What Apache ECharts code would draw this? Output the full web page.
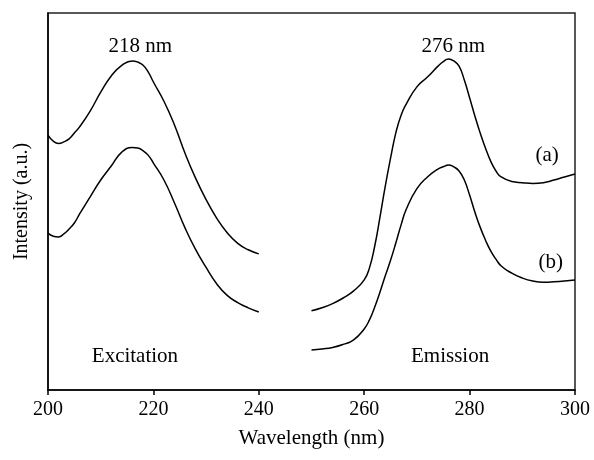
<!DOCTYPE html>
<html>
<head>
<meta charset="utf-8">
<script src="https://cdn.jsdelivr.net/npm/echarts@6/dist/echarts.min.js"></script>
<style>
  html, body { margin: 0; padding: 0; background: #fff; }
  #chart { width: 594px; height: 460px; }
</style>
</head>
<body>
<div id="chart"></div>
<script>
// wavelength (nm) and intensity values
var excWave = [200, 201, 202, 203, 204, 205, 206, 208, 210, 212, 214, 216, 217, 218, 219, 220,
  222, 224, 226, 228, 230, 232, 234, 236, 238, 240];
var excA = [67.6, 66.0, 65.4, 65.8, 66.6, 68.2, 69.8, 74.0, 79.0, 83.3, 86.1, 87.3, 87.0, 86.2, 84.4, 81.7,
  76.6, 70.3, 62.8, 56.2, 50.5, 45.6, 41.7, 38.9, 37.2, 36.1];
var excB = [41.6, 40.8, 40.6, 41.4, 42.7, 44.3, 46.7, 51.2, 55.7, 59.4, 63.1, 64.3, 64.2, 63.5, 62.3, 60.2,
  55.7, 49.6, 43.0, 37.3, 32.5, 28.2, 25.1, 23.2, 21.8, 20.7];

var emWave = [250, 252, 254, 256, 258, 260, 261, 262, 263, 264, 265, 266, 267, 268, 270, 272, 274, 275,
  276, 277, 278, 279, 280, 281, 282, 283, 284, 285, 286, 288, 290, 292, 294, 296, 298, 300];
var emA = [21.0, 21.8, 22.9, 24.4, 26.3, 29.2, 32.4, 38.2, 45.9, 54.1, 61.5, 68.2, 72.9, 75.9, 80.4, 83.0, 85.9, 87.1,
  87.8, 87.3, 85.9, 82.2, 77.5, 72.7, 68.2, 64.2, 60.7, 58.1, 56.5, 55.3, 55.0, 54.8, 55.0, 55.7, 56.5, 57.3];
var emB = [10.6, 10.9, 11.3, 12.1, 13.3, 16.2, 18.6, 22.0, 26.0, 30.3, 34.4, 39.0, 43.8, 48.0, 53.4, 56.5, 58.6, 59.2,
  59.7, 59.2, 58.1, 55.7, 51.7, 47.2, 43.2, 39.8, 36.9, 34.7, 32.9, 31.0, 29.7, 28.9, 28.6, 28.7, 28.9, 29.2];

var xTicks = [200, 220, 240, 260, 280, 300];

// text labels placed at data coordinates
var notes = [
  { text: '218 nm', at: [217.5, 91.2] },
  { text: '276 nm', at: [276.9, 91.2] },
  { text: '(a)', at: [294.7, 62.3] },
  { text: '(b)', at: [295.4, 33.7] },
  { text: 'Excitation', at: [216.5, 8.8] },
  { text: 'Emission', at: [276.3, 8.8] }
];

function pairs(xs, ys) {
  return xs.map(function (x, i) { return [x, ys[i]]; });
}

var font = 'Liberation Serif';
var mychart = echarts.init(document.getElementById('chart'));

function curve(data) {
  return {
    type: 'line',
    data: data,
    smooth: 0.5,
    showSymbol: false,
    lineStyle: { color: '#000', width: 1.5 },
    silent: true
  };
}

var option = {
  animation: false,
  backgroundColor: '#fff',
  grid: {
    left: 48, right: 19, top: 13, bottom: 70,
    show: true, borderColor: '#222', borderWidth: 1.5
  },
  xAxis: {
    type: 'value',
    min: 200, max: 300, interval: 20,
    name: 'Wavelength (nm)',
    nameLocation: 'middle',
    nameGap: 38,
    nameTextStyle: { fontFamily: font, fontSize: 21, color: '#000' },
    axisLine: { lineStyle: { color: '#000', width: 1.5 } },
    axisTick: { show: true, length: 5, inside: false, lineStyle: { color: '#000', width: 1.5 } },
    axisLabel: {
      fontFamily: font, fontSize: 20, color: '#000', margin: 10,
      formatter: function (v) { return xTicks.indexOf(v) >= 0 ? String(v) : ''; }
    },
    splitLine: { show: false }
  },
  yAxis: {
    type: 'value',
    min: 0, max: 100,
    name: 'Intensity (a.u.)',
    nameLocation: 'middle',
    nameRotate: 90,
    nameGap: 16,
    nameTextStyle: { fontFamily: font, fontSize: 20, color: '#000' },
    axisLine: { show: true, lineStyle: { color: '#000', width: 1.5 } },
    axisTick: { show: false },
    axisLabel: { show: false },
    splitLine: { show: false }
  },
  series: [
    curve(pairs(excWave, excA)),
    curve(pairs(excWave, excB)),
    curve(pairs(emWave, emA)),
    curve(pairs(emWave, emB))
  ]
};
mychart.setOption(option);

mychart.setOption({
  graphic: notes.map(function (n) {
    var p = mychart.convertToPixel({ gridIndex: 0 }, n.at);
    return {
      type: 'text',
      x: p[0], y: p[1],
      silent: true,
      style: {
        text: n.text, fill: '#000',
        font: '21px "' + font + '"',
        align: 'center', verticalAlign: 'middle'
      }
    };
  })
});

window.addEventListener('resize', function () {
  mychart.resize();
});
</script>
</body>
</html>
